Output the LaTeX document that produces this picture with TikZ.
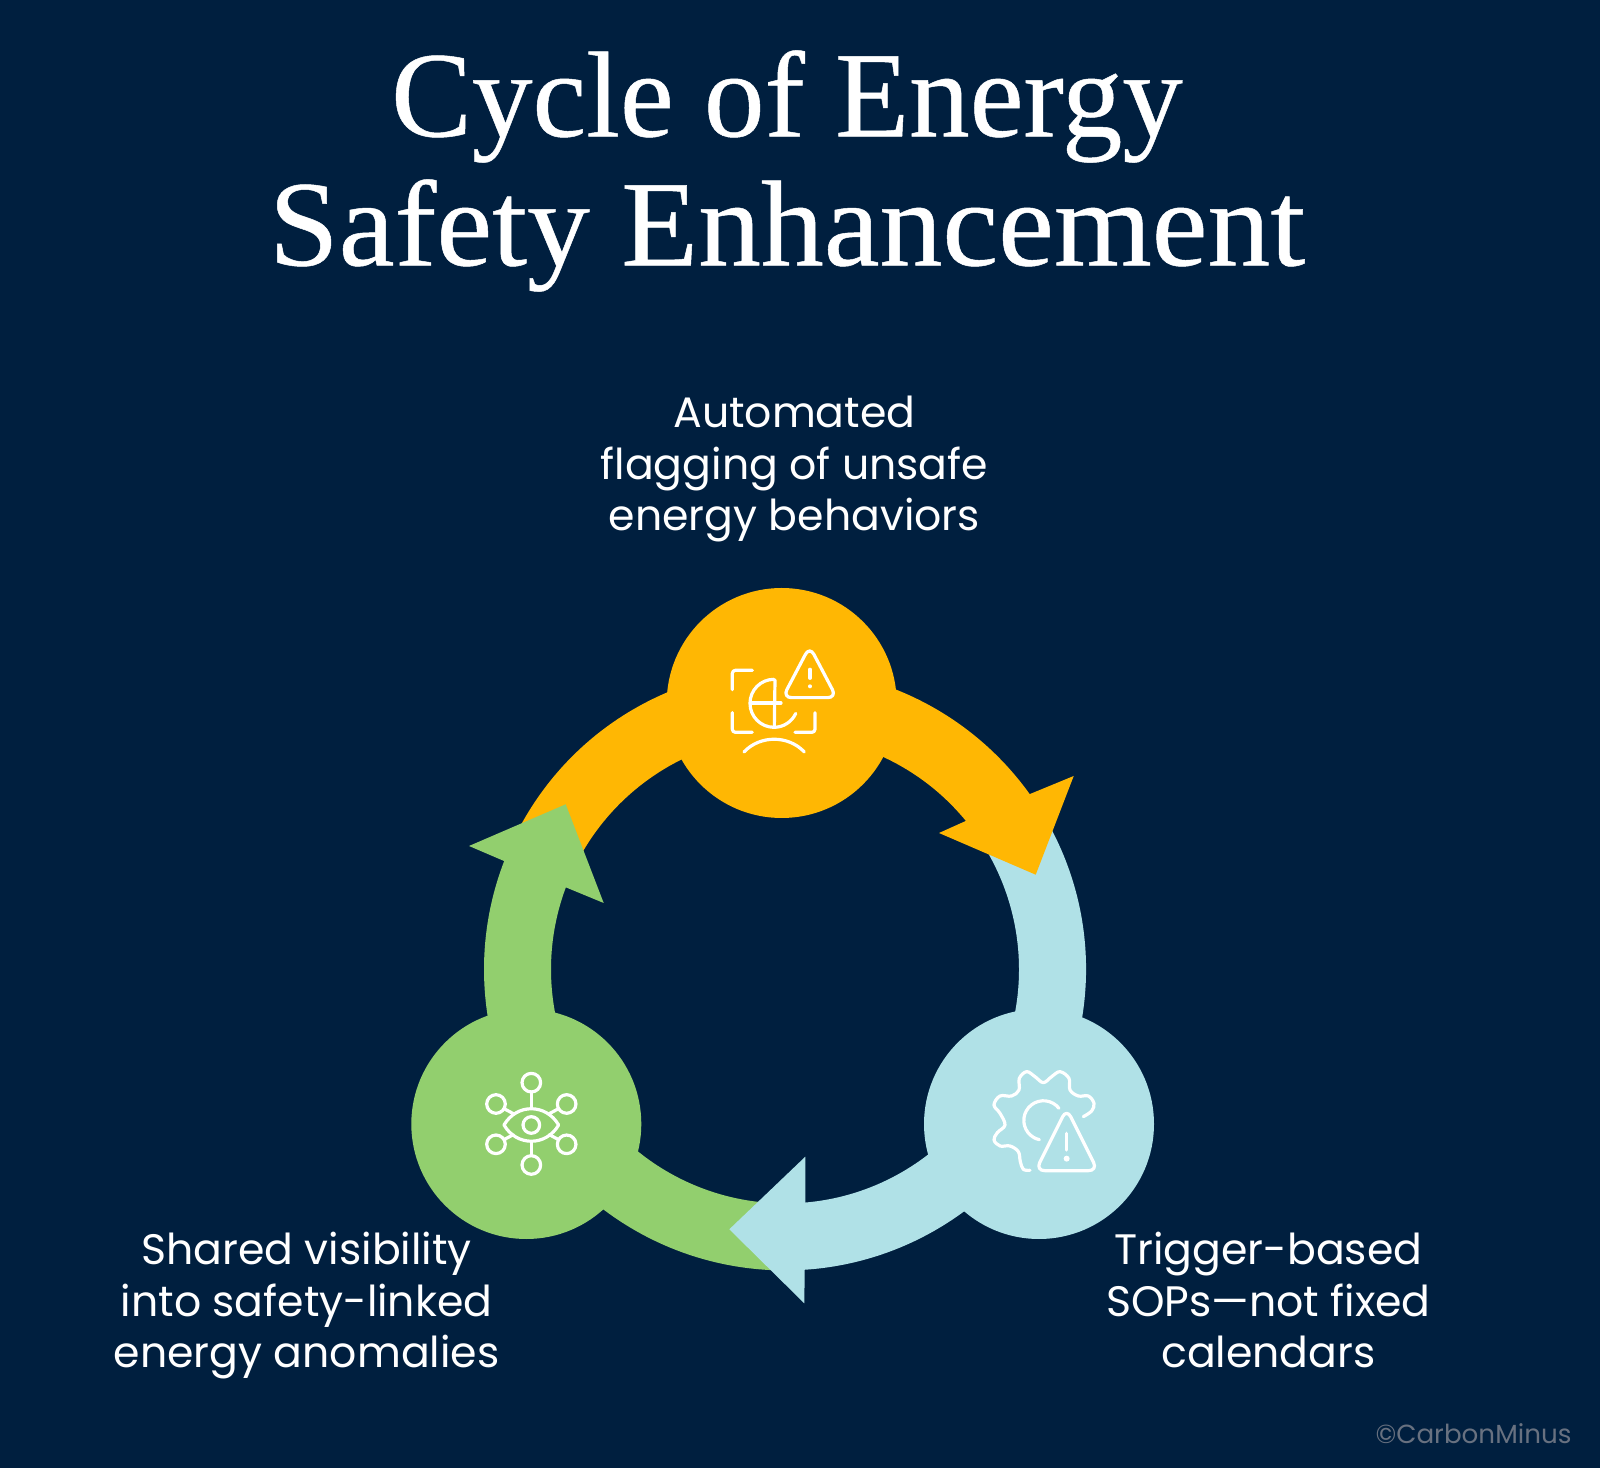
\documentclass[tikz,border=0pt]{standalone}
\usepackage{fontspec}
\newfontfamily\popf{Poppins}
\newfontfamily\titlef[FakeBold=0.4]{Liberation Serif}
\definecolor{navy}{RGB}{0,31,63}
\definecolor{cOrange}{RGB}{255,183,3}
\definecolor{cBlue}{RGB}{176,225,231}
\definecolor{cGreen}{RGB}{146,207,110}
\definecolor{cMark}{RGB}{104,113,128}
\tikzset{
  titletext/.style={text=white,align=center,inner sep=0pt,font=\titlef\fontsize{122}{129}\selectfont},
  bodytext/.style={text=white,align=center,inner sep=0pt,font=\popf\fontsize{42.6}{51.5}\selectfont},
  hub/.style={circle,minimum size=230pt,inner sep=0pt,outer sep=0pt},
  icon/.style={draw=white,line width=3.2pt,line cap=round,line join=round},
  icondot/.style={fill=white,draw=none}
}
\newcommand{\band}[4]{% colour, start, end
  \fill[#1] ([shift={(ring)}]#2:301pt) arc[start angle=#2,end angle=#3,radius=301pt]
    -- ([shift={(ring)}]#3:234pt) arc[start angle=#3,end angle=#2,radius=234pt] -- cycle;}
\begin{document}
\begin{tikzpicture}[x=1pt,y=1pt]
\fill[navy] (0,0) rectangle (1600,1468);
\useasboundingbox (0,0) rectangle (1600,1468);
\coordinate (ring) at (785,498.6);
% ring bands
\band{cOrange}{152}{33}{}
\band{cBlue}{30}{-90}{}
\band{cGreen}{-91}{-205}{}
% arrow heads (y = 1468 - pixel row)
\coordinate (oa) at (1073.7,692);
\coordinate (ob) at (1035.7,593.3);
\coordinate (oc) at (939,635);
\coordinate (oi) at (965.7,647);
\coordinate (oo) at (1029.3,673.7);
\fill[cOrange] (oo) -- (oa) -- (ob) -- (oc) -- (oi) -- cycle;
\coordinate (ba) at (805.3,311.3);
\coordinate (bb) at (729.3,238.7);
\coordinate (bc) at (804.3,164.7);
\coordinate (bo) at (804.7,197.3);
\coordinate (bi) at (805.3,264.7);
\fill[cBlue] (bi) -- (ba) -- (bb) -- (bc) -- (bo) -- cycle;
\coordinate (ga) at (469,622);
\coordinate (gb) at (565.7,663.7);
\coordinate (gc) at (603.7,565);
\coordinate (gi) at (565.7,580.7);
\coordinate (go) at (504,607);
\fill[cGreen] (go) -- (ga) -- (gb) -- (gc) -- (gi) -- cycle;
% hubs
\node[hub,fill=cOrange] (hubtop) at (781.7,765) {};
\node[hub,fill=cBlue] (hubright) at (1039,344) {};
\node[hub,fill=cGreen] (hubleft) at (526.3,344) {};
% icon: top
\begin{scope}[shift={(650,888)},x=0.3333pt,y=-0.3333pt]
  \draw[icon,rounded corners=3pt] (307,271) -- (247,271) -- (247,329);
  \draw[icon,rounded corners=3pt] (247,398) -- (247,457) -- (307,457);
  \draw[icon,rounded corners=3pt] (435,457) -- (495,457) -- (495,398);
  \draw[icon] (372,298) arc[start angle=90,end angle=335,radius=24pt];
  \draw[icon] (375,300) -- (373,440);
  \draw[icon] (302,369) -- (393,369);
  \draw[icon] (282,516) .. controls (330,465) and (415,465) .. (463,516);
  \draw[icon,rounded corners=9pt] (479,199) -- (398,353) -- (560,353) -- cycle;
  \draw[icon] (480,268) -- (480,295);
  \fill[icondot] (480,319) circle[radius=2pt];
\end{scope}
% icon: right
\begin{scope}[shift={(920,458)},x=0.3333pt,y=-0.3333pt]
  \draw[icon] plot[smooth,tension=0.6] coordinates {(330,481) (310,478) (301,455) (295,425) (270,408) (240,408) (222,390) (232,368) (255,345) (240,310) (222,285) (240,258) (275,258) (297,240) (298,205) (320,185) (345,200) (370,218) (395,200) (420,185) (447,205) (450,240) (475,258) (505,258) (522,280) (515,303) (490,320)};
  \draw[icon] (417,295) arc[start angle=38,end angle=258,radius=19.67pt];
  \draw[icon,rounded corners=9pt] (440,296) -- (347,482) -- (533,482) -- cycle;
  \draw[icon] (440,370) -- (440,420);
  \fill[icondot] (440,446) circle[radius=3pt];
\end{scope}
% icon: left
\begin{scope}[shift={(410,458)},x=0.3333pt,y=-0.3333pt]
  \foreach \px/\py in {364/218,364/465,258/282,470/282,258/403,470/403}
    \draw[icon] (\px,\py) circle[radius=9.3pt];
  \draw[icon] (364,345) circle[radius=8.3pt];
  \draw[icon] (364,247) -- (364,293);
  \draw[icon] (364,397) -- (364,436);
  \draw[icon] (284,297) -- (310,311);
  \draw[icon] (444,297) -- (418,311);
  \draw[icon] (284,388) -- (310,374);
  \draw[icon] (444,388) -- (418,374);
  \draw[icon] (282,345) .. controls (320,280) and (408,280) .. (446,345) .. controls (408,410) and (320,410) .. (282,345) -- cycle;
\end{scope}
% text
\node[titletext] (title) at (787,1297) {\scalebox{0.993}[1]{Cycle of Energy}\\\scalebox{1.03}[1]{Safety Enhancement}};
\node[bodytext] (ltop) at (794.4,999) {Automated\\flagging of unsafe\\energy behaviors};
\node[bodytext] (lleft) at (306.6,162) {Shared visibility\\into safety-linked\\energy anomalies};
\node[bodytext] (lright) at (1268.4,168) {Trigger-based\\SOPs—not fixed\\calendars};
\node[text=cMark,inner sep=0pt,anchor=base,font=\popf\fontsize{26.2}{30}\selectfont] (mark) at (1473.5,25) {©CarbonMinus};
\end{tikzpicture}
\end{document}
